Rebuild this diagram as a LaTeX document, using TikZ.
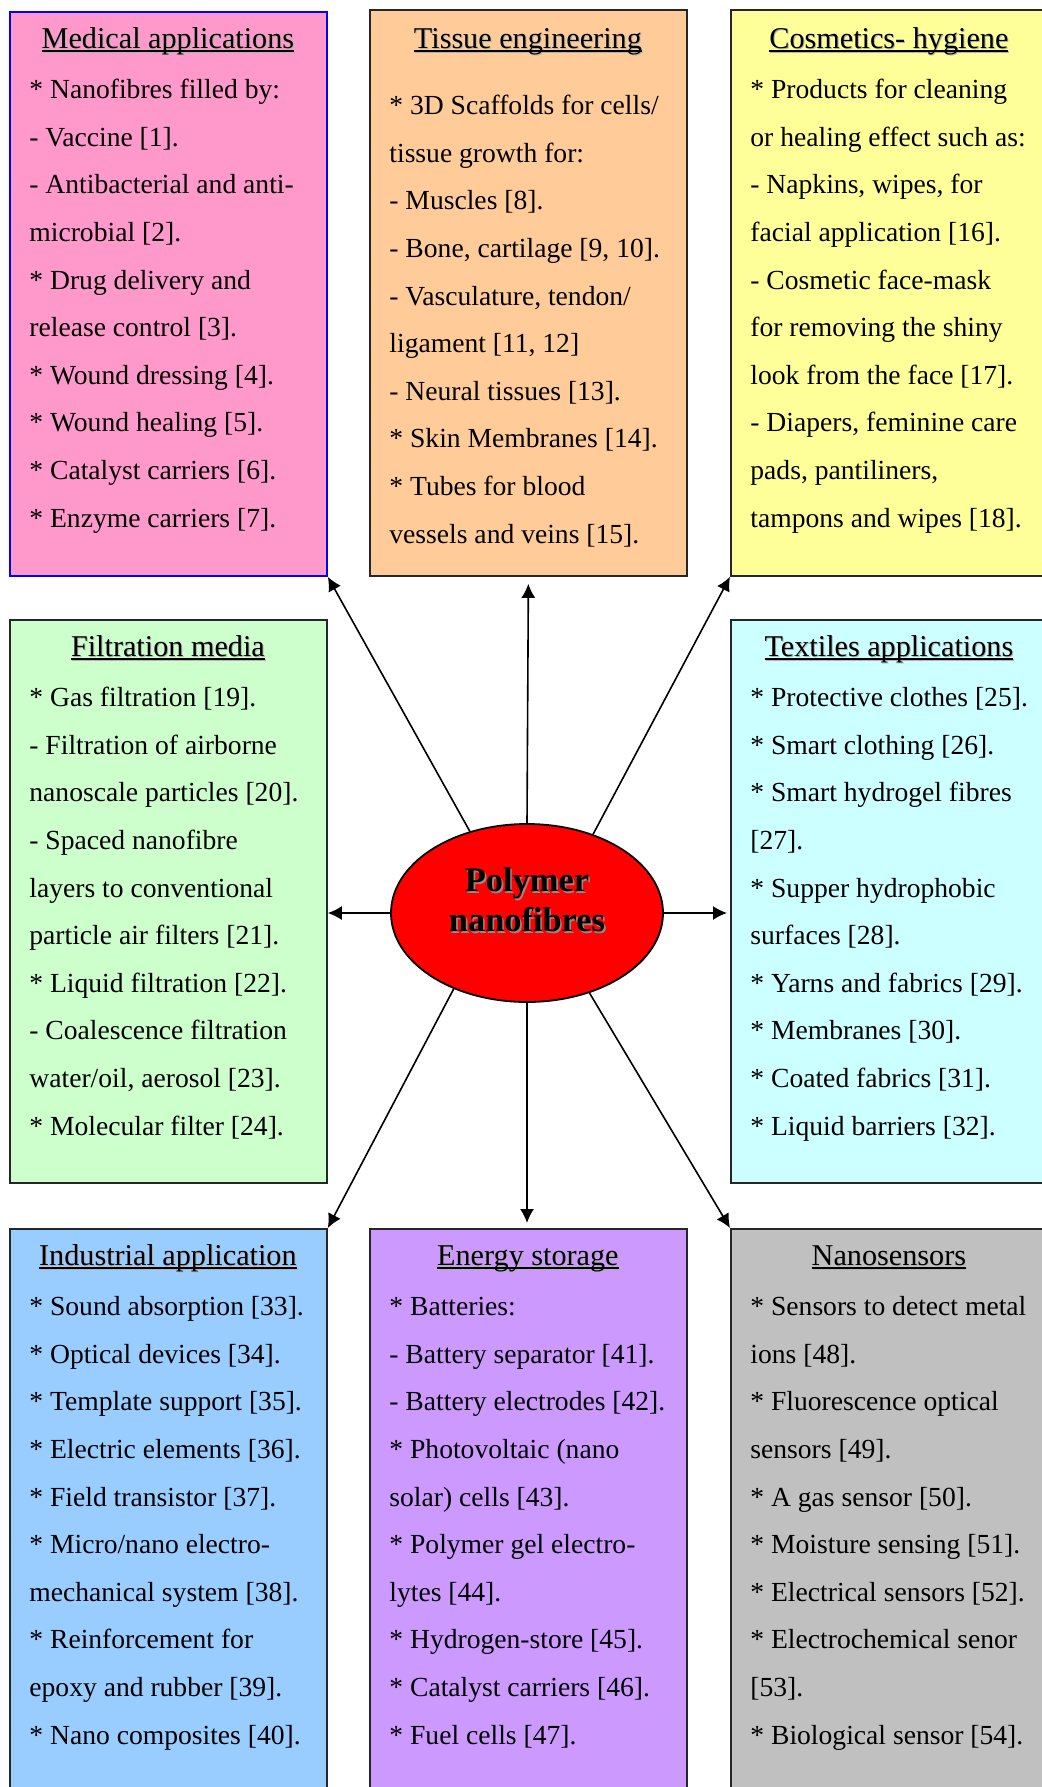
\documentclass[tikz,border=0pt]{standalone}
\usepackage{fontspec}
\setmainfont{Liberation Serif}
\usetikzlibrary{arrows.meta,shapes.geometric}
\definecolor{medpink}{HTML}{FF99CC}
\definecolor{tisorange}{HTML}{FFCC99}
\definecolor{cosyellow}{HTML}{FFFF99}
\definecolor{filgreen}{HTML}{CCFFCC}
\definecolor{texcyan}{HTML}{CCFFFF}
\definecolor{indblue}{HTML}{99CCFF}
\definecolor{enelilac}{HTML}{CC99FF}
\definecolor{nangrey}{HTML}{C0C0C0}
\tikzstyle{panel}=[rectangle, draw=black!85, line width=0.9pt, inner sep=0pt, anchor=north west, minimum width=158.5pt]
\tikzstyle{annot}=[align=left, anchor=north west, inner sep=0pt, font=\fontsize{13.8}{23.8}\selectfont]
\tikzstyle{core}=[ellipse, draw=black, line width=0.9pt, fill=red, minimum width=136pt, minimum height=89pt, inner sep=0pt, align=center, font=\fontsize{17.2}{20}\selectfont\bfseries]
\tikzstyle{link}=[-{Latex[length=7pt,width=7pt]}, line width=0.8pt]
\newcommand{\ultitle}[1]{\makebox[138.5pt]{\fontsize{15.1}{23.8}\selectfont\strut\setbox0\hbox{#1}%
	\rlap{\kern0.5pt\raisebox{-0.5pt}{\color{black!30}\rule[-1.6pt]{\wd0}{0.8pt}}}%
	\rlap{\kern0.5pt\raisebox{-0.5pt}{\color{black!30}#1}}%
	\rlap{\rule[-1.6pt]{\wd0}{0.8pt}}\box0}}
\newcommand{\shadowtext}[1]{\rlap{\kern0.8pt\raisebox{-0.8pt}{\color{black!45}#1}}#1}

\begin{document}
\begin{tikzpicture}[x=0.5pt,y=-0.5pt]
	\useasboundingbox (0,0) rectangle (1042,1787);

	% boxes
	\node[panel, fill=medpink, draw=blue, minimum height=282pt] (med) at (9,11) {};
	\node[panel, fill=tisorange, minimum height=283pt] (tis) at (369,9) {};
	\node[panel, fill=cosyellow, minimum height=283pt] (cos) at (730,9) {};
	\node[panel, fill=filgreen, minimum height=281.5pt] (fil) at (9,619) {};
	\node[panel, fill=texcyan, minimum height=281.5pt] (tex) at (730,619) {};
	\node[panel, fill=indblue, minimum height=290pt] (ind) at (9,1228) {};
	\node[panel, fill=enelilac, minimum height=290pt] (ene) at (369,1228) {};
	\node[panel, fill=nangrey, minimum height=290pt] (nan) at (730,1228) {};

	\node[core] (core) at (527,913) {\shadowtext{Polymer}\\\shadowtext{nanofibres}\rule[-13pt]{0pt}{0pt}};

	% texts
	\node[annot] (medtext) at (29,15) {\ultitle{Medical applications}\\[1.2pt]
		* Nanofibres filled by:\\
		- Vaccine {[1]}.\\
		- Antibacterial and anti-\\
		microbial {[2]}.\\
		* Drug delivery and\\
		release control {[3]}.\\
		* Wound dressing {[4]}.\\
		* Wound healing {[5]}.\\
		* Catalyst carriers {[6]}.\\
		* Enzyme carriers {[7]}.};
	\node[annot] (tistext) at (389,15) {\ultitle{Tissue engineering}\\[9.2pt]
		* 3D Scaffolds for cells/\\
		tissue growth for:\\
		- Muscles {[8]}.\\
		- Bone, cartilage {[9, 10]}.\\
		- Vasculature, tendon/\\
		ligament {[11, 12]}\\
		- Neural tissues {[13]}.\\
		* Skin Membranes {[14]}.\\
		* Tubes for blood\\
		vessels and veins {[15]}.};
	\node[annot] (costext) at (750,15) {\ultitle{Cosmetics- hygiene}\\[1.2pt]
		* Products for cleaning\\
		or healing effect such as:\\
		- Napkins, wipes, for\\
		facial application {[16]}.\\
		- Cosmetic face-mask\\
		for removing the shiny\\
		look from the face {[17]}.\\
		- Diapers, feminine care\\
		pads, pantiliners,\\
		tampons and wipes {[18]}.};
	\node[annot] (filtext) at (29,623) {\ultitle{Filtration media}\\[1.2pt]
		* Gas filtration {[19]}.\\
		- Filtration of airborne\\
		nanoscale particles {[20]}.\\
		- Spaced nanofibre\\
		layers to conventional\\
		particle air filters {[21]}.\\
		* Liquid filtration {[22]}.\\
		- Coalescence filtration\\
		water/oil, aerosol {[23]}.\\
		* Molecular filter {[24]}.};
	\node[annot] (textext) at (750,623) {\ultitle{Textiles applications}\\[1.2pt]
		* Protective clothes {[25]}.\\
		* Smart clothing {[26]}.\\
		* Smart hydrogel fibres\\
		{[27].}\\
		* Supper hydrophobic\\
		surfaces {[28]}.\\
		* Yarns and fabrics {[29]}.\\
		* Membranes {[30]}.\\
		* Coated fabrics {[31]}.\\
		* Liquid barriers {[32]}.};
	\node[annot] (indtext) at (29,1232) {\ultitle{Industrial application}\\[1.2pt]
		* Sound absorption {[33]}.\\
		* Optical devices {[34]}.\\
		* Template support {[35]}.\\
		* Electric elements {[36]}.\\
		* Field transistor {[37]}.\\
		* Micro/nano electro-\\
		mechanical system {[38]}.\\
		* Reinforcement for\\
		epoxy and rubber {[39]}.\\
		* Nano composites {[40]}.};
	\node[annot] (enetext) at (389,1232) {\ultitle{Energy storage}\\[1.2pt]
		* Batteries:\\
		- Battery separator {[41]}.\\
		- Battery electrodes {[42]}.\\
		* Photovoltaic (nano\\
		solar) cells {[43]}.\\
		* Polymer gel electro-\\
		lytes {[44]}.\\
		* Hydrogen-store {[45]}.\\
		* Catalyst carriers {[46]}.\\
		* Fuel cells {[47]}.};
	\node[annot] (nantext) at (750,1232) {\ultitle{Nanosensors}\\[1.2pt]
		* Sensors to detect metal\\
		ions {[48]}.\\
		* Fluorescence optical\\
		sensors {[49]}.\\
		* A gas sensor {[50]}.\\
		* Moisture sensing {[51]}.\\
		* Electrical sensors {[52]}.\\
		* Electrochemical senor\\
		{[53].}\\
		* Biological sensor {[54]}.};

	% arrows
	\draw[link] (core.125) -- (med.south east);
	\draw[link, shorten >=3.5pt] (core.north) -- (tis.south);
	\draw[link] (core.50) -- (cos.south west);
	\draw[link] (core.west) -- (core.west -| fil.east);
	\draw[link, shorten >=1.5pt] (core.east) -- (core.east -| tex.west);
	\draw[link] (core.226) -- (ind.north east);
	\draw[link, shorten >=2.5pt] (core.south) -- (core.south |- ene.north);
	\draw[link] (core.308) -- (nan.north west);
\end{tikzpicture}
\end{document}
